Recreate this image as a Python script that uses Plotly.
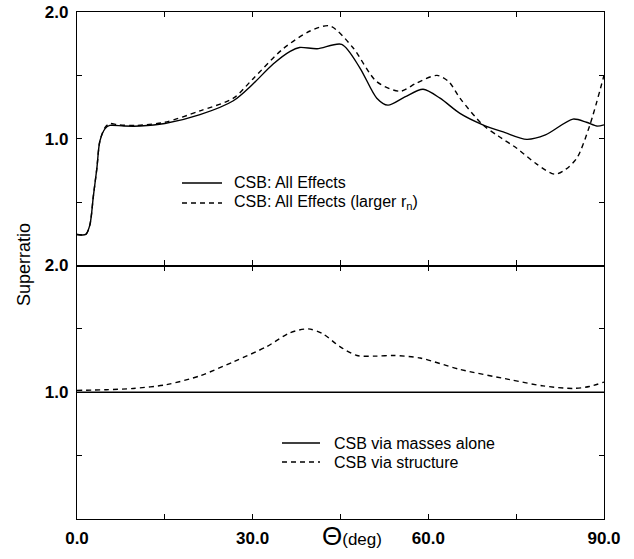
import plotly.graph_objects as go

# ---- data ----
top_all_theta = [0, 1.5, 2.2, 2.8, 3.4, 3.9, 4.8, 5.6, 8, 10.8, 15, 21, 26.7, 30, 33.5, 36.4, 38, 41,
                 45.2, 48.3, 51.2, 53.1, 56, 59.1, 62, 65.4, 69.3, 73, 76.8, 80, 84.7, 87, 88.8, 90]
top_all_val = [0.245, 0.245, 0.32, 0.55, 0.77, 0.98, 1.08, 1.105, 1.10, 1.10, 1.12, 1.19, 1.30, 1.43, 1.59,
               1.69, 1.72, 1.71, 1.745, 1.56, 1.32, 1.265, 1.33, 1.39, 1.32, 1.20, 1.11, 1.05, 0.995, 1.03,
               1.155, 1.13, 1.10, 1.11]

top_rn_theta = [0, 1.5, 2.2, 2.8, 3.4, 3.9, 4.8, 5.6, 7, 10, 15, 21, 26.7, 30, 35.2, 39.8, 43.2, 47.1,
                51.2, 55.2, 58, 61.5, 63.5, 65.4, 69.3, 72, 75.1, 78.5, 81.6, 83.5, 85.4, 87.6, 90]
top_rn_val = [0.245, 0.245, 0.32, 0.55, 0.77, 0.98, 1.09, 1.12, 1.11, 1.105, 1.13, 1.22, 1.32, 1.47, 1.71,
              1.85, 1.89, 1.72, 1.45, 1.375, 1.44, 1.50, 1.45, 1.32, 1.11, 1.02, 0.925, 0.80, 0.72, 0.76,
              0.85, 1.11, 1.50]

bot_mass_theta = [0, 90]
bot_mass_val = [1.0, 1.0]

bot_struct_theta = [0, 5, 9.6, 15.3, 21, 26.7, 32.4, 36.4, 39.5, 42, 44.9, 47.8, 51, 54, 58.6, 65.4,
                    73.9, 79.6, 84.7, 87.5, 90]
bot_struct_val = [1.015, 1.02, 1.03, 1.06, 1.13, 1.24, 1.36, 1.47, 1.50, 1.46, 1.36, 1.29, 1.285, 1.29,
                  1.27, 1.18, 1.10, 1.05, 1.03, 1.045, 1.08]

top_names = ["CSB: All Effects", "CSB: All Effects (larger r<sub>n</sub>)"]
bot_names = ["CSB via masses alone", "CSB via structure"]

x_tickvals = [0, 15, 30, 45, 60, 75, 90]
x_ticktext = ["0.0", "", "30.0", "", "60.0", "", "90.0"]
y_tickvals = [0.5, 1.0, 1.5, 2.0]
y_ticktext = ["", "1.0", "", "2.0"]

FONT = "Liberation Sans, Arial, sans-serif"
DASH = "5px,4px"
LW = 1.4

fig = go.Figure()
fig.add_trace(go.Scatter(x=top_all_theta, y=top_all_val, mode="lines", name=top_names[0],
                         line=dict(color="black", width=LW, shape="spline", smoothing=0.8),
                         xaxis="x2", yaxis="y2"))
fig.add_trace(go.Scatter(x=top_rn_theta, y=top_rn_val, mode="lines", name=top_names[1],
                         line=dict(color="black", width=LW, dash=DASH, shape="spline", smoothing=0.8),
                         xaxis="x2", yaxis="y2"))
fig.add_trace(go.Scatter(x=bot_mass_theta, y=bot_mass_val, mode="lines", name=bot_names[0],
                         line=dict(color="black", width=LW), xaxis="x", yaxis="y"))
fig.add_trace(go.Scatter(x=bot_struct_theta, y=bot_struct_val, mode="lines", name=bot_names[1],
                         line=dict(color="black", width=LW, dash=DASH, shape="spline", smoothing=0.8),
                         xaxis="x", yaxis="y"))

axis_common = dict(showline=True, linecolor="black", linewidth=1.2, mirror="ticks", ticks="inside",
                   ticklen=5, tickcolor="black", tickwidth=1, showgrid=False, zeroline=False,
                   automargin=False,
                   tickfont=dict(family=FONT, size=17, color="black", weight="bold"))

# page geometry helpers for the legend keys (pixel -> paper)
L, R, T, B = 77, 30, 12, 40
W, H = 634, 559
PW, PH = W - L - R, H - T - B


def px(xp):
    return (xp - L) / PW


def py(yp):
    return 1 - (yp - T) / PH


shapes = []
annotations = []
legend_rows = [
    (top_names, [183, 203], 182, 222, 232),
    (bot_names, [443, 462], 282, 320, 332),
]
for names, rows, x0, x1, xt in legend_rows:
    for i, (nm, yr) in enumerate(zip(names, rows)):
        shapes.append(dict(type="line", xref="paper", yref="paper", x0=px(x0), x1=px(x1),
                           y0=py(yr), y1=py(yr),
                           line=dict(color="black", width=LW, dash=None if i == 0 else DASH)))
        annotations.append(dict(text=nm, xref="paper", yref="paper", x=px(xt), y=py(yr),
                                xanchor="left", yanchor="middle", showarrow=False,
                                font=dict(family=FONT, size=16, color="black")))

annotations += [
    dict(text="Superratio", textangle=-90, xref="paper", yref="paper", x=px(24), y=py(265),
         xanchor="center", yanchor="middle", showarrow=False,
         font=dict(family=FONT, size=18, color="black")),
    dict(text="<span style='font-size:26px'>Θ</span>(deg)", xref="paper", yref="paper",
         x=px(352), y=py(536), xanchor="center", yanchor="middle", showarrow=False,
         font=dict(family=FONT, size=17, color="black")),
]

fig.update_layout(
    width=W, height=H,
    margin=dict(l=L, r=R, t=T, b=B, autoexpand=False),
    paper_bgcolor="white", plot_bgcolor="white",
    font=dict(family=FONT, color="black"),
    showlegend=False,
    xaxis=dict(range=[0, 90], tickvals=x_tickvals, ticktext=x_ticktext, anchor="y",
               ticklabelstandoff=3, **axis_common),
    xaxis2=dict(range=[0, 90], tickvals=x_tickvals, ticktext=[""] * 7, anchor="y2",
                matches="x", showticklabels=False, **axis_common),
    yaxis=dict(range=[0, 2], domain=[0, 0.5], tickvals=y_tickvals, ticktext=y_ticktext,
               anchor="x", ticklabelstandoff=4, **axis_common),
    yaxis2=dict(range=[0, 2], domain=[0.5, 1], tickvals=y_tickvals, ticktext=y_ticktext,
                anchor="x2", ticklabelstandoff=4, **axis_common),
    shapes=shapes,
    annotations=annotations,
)

fig.write_html("out.html")
